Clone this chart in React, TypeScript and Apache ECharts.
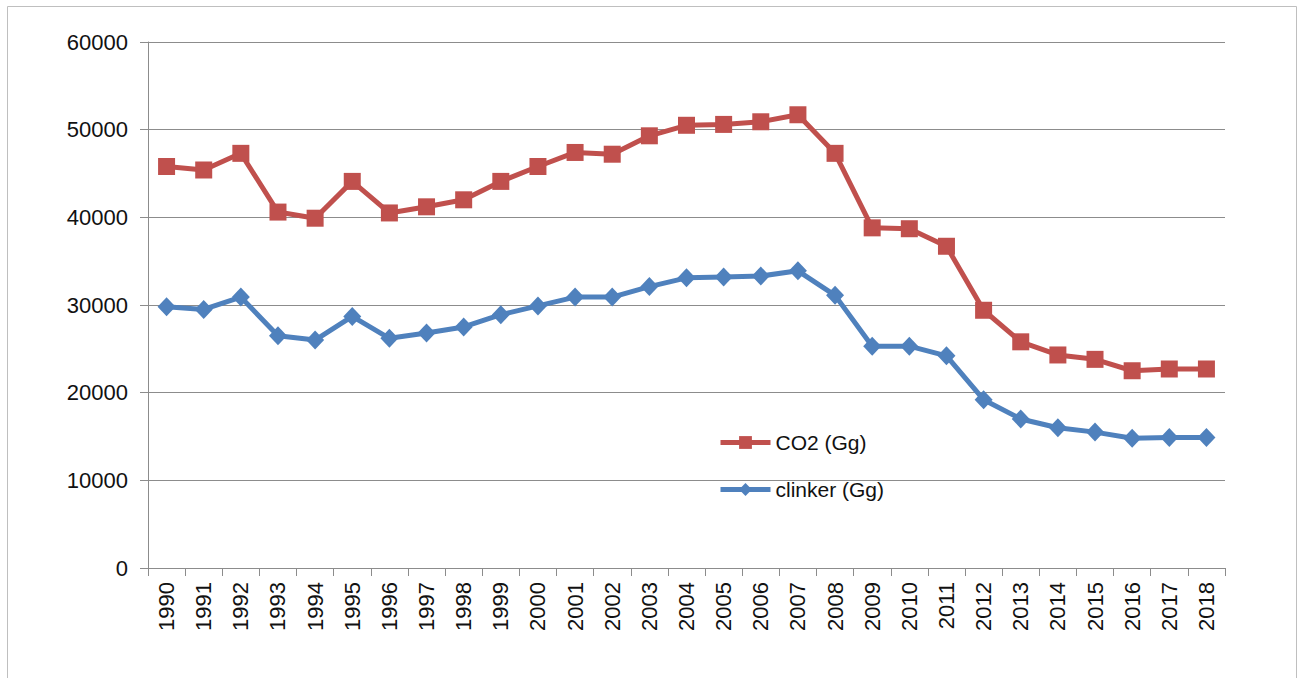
import React, { useEffect, useRef } from "react";
import * as echarts from "echarts";

const years = [
  "1990", "1991", "1992", "1993", "1994", "1995", "1996", "1997", "1998", "1999",
  "2000", "2001", "2002", "2003", "2004", "2005", "2006", "2007", "2008", "2009",
  "2010", "2011", "2012", "2013", "2014", "2015", "2016", "2017", "2018",
];

const co2 = [
  45800, 45400, 47300, 40600, 39900, 44100, 40500, 41200, 42000, 44100,
  45800, 47400, 47200, 49300, 50500, 50600, 50900, 51700, 47300, 38800,
  38700, 36700, 29400, 25800, 24300, 23800, 22500, 22700, 22700,
];

const clinker = [
  29800, 29500, 30900, 26500, 26000, 28700, 26200, 26800, 27500, 28900,
  29900, 30900, 30900, 32100, 33100, 33200, 33300, 33900, 31100, 25300,
  25300, 24200, 19200, 17000, 16000, 15500, 14800, 14900, 14900,
];

const FONT = "'Liberation Sans', Arial, sans-serif";

export default function App() {
  const ref = useRef<HTMLDivElement>(null);

  useEffect(() => {
    document.body.style.margin = "0";
    const chart = echarts.init(ref.current!, null, { renderer: "svg" });
    chart.setOption({
      animation: false,
      backgroundColor: "#ffffff",
      textStyle: { fontFamily: FONT },
      graphic: [
        {
          type: "rect",
          shape: { x: 7.5, y: 6.5, width: 1289, height: 700 },
          style: { fill: "none", stroke: "#bfbfbf", lineWidth: 1 },
          silent: true,
        },
      ],
      grid: { left: 148, right: 79, top: 42, bottom: 110, containLabel: false },
      legend: {
        left: 713,
        top: 427,
        orient: "vertical",
        itemGap: 26,
        itemWidth: 50,
        itemHeight: 16,
        lineStyle: { width: 5 },
        textStyle: { fontFamily: FONT, fontSize: 21, color: "#111" },
        data: ["CO2 (Gg)", "clinker (Gg)"],
      },
      xAxis: {
        type: "category",
        data: years,
        boundaryGap: true,
        axisLine: { lineStyle: { color: "#8c8c8c", width: 1 } },
        axisTick: { show: true, interval: 0, length: 8, lineStyle: { color: "#8c8c8c" } },
        axisLabel: {
          interval: 0,
          rotate: 90,
          margin: 14,
          fontFamily: FONT,
          fontSize: 22,
          color: "#111",
        },
        splitLine: { show: false },
      },
      yAxis: {
        type: "value",
        min: 0,
        max: 60000,
        interval: 10000,
        axisLine: { show: true, lineStyle: { color: "#8c8c8c", width: 1 } },
        axisTick: { show: true, length: 8, lineStyle: { color: "#8c8c8c" } },
        axisLabel: {
          margin: 20,
          fontFamily: FONT,
          fontSize: 22,
          color: "#111",
          formatter: (v: number) => String(v),
        },
        splitLine: { show: true, lineStyle: { color: "#8c8c8c", width: 1 } },
      },
      series: [
        {
          name: "CO2 (Gg)",
          type: "line",
          data: co2,
          symbol: "rect",
          symbolSize: 17,
          lineStyle: { color: "#c0504d", width: 5 },
          itemStyle: { color: "#c0504d" },
        },
        {
          name: "clinker (Gg)",
          type: "line",
          data: clinker,
          symbol: "diamond",
          symbolSize: [18, 19],
          lineStyle: { color: "#4f81bd", width: 5 },
          itemStyle: { color: "#4f81bd" },
        },
      ],
    });
    return () => chart.dispose();
  }, []);

  return (
    <div
      ref={ref}
      style={{ position: "absolute", left: 0, top: 0, width: 1304, height: 678 }}
    />
  );
}
